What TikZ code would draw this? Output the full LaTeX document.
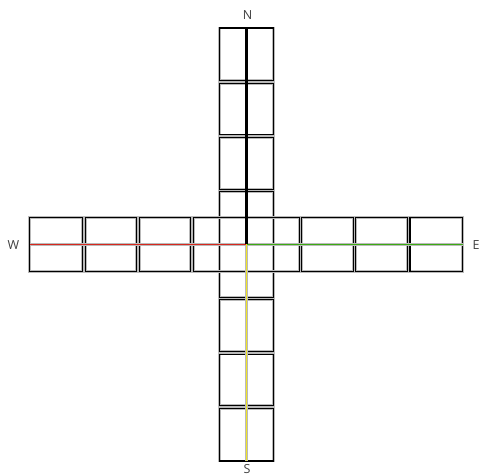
\documentclass[tikz,border=0pt]{standalone}
\usepackage{fontspec}
\setmainfont{Open Sans}
\definecolor{roadred}{RGB}{215,40,30}
\definecolor{roadgreen}{RGB}{60,170,20}
\definecolor{roadyellow}{RGB}{240,228,40}
\begin{document}
\begin{tikzpicture}[x=1pt,y=-1pt,
    lane/.style={draw=black,line width=1.1pt,
      preaction={draw=gray!55,line width=2.8pt}},
    heading/.style={text=black!75,font=\fontsize{12.5}{14}\selectfont,inner sep=0pt}]
  \useasboundingbox[fill=white] (0,0) rectangle (480,476);
  \coordinate (c) at (246.3,244.5);
  \coordinate (nEnd) at (246.3,28);
  \coordinate (sEnd) at (246.3,461);
  \coordinate (wEnd) at (29.8,244.5);
  \coordinate (eEnd) at (462.8,244.5);
  % road pieces, counted out from the crossing
  \foreach \k in {0,...,3} {
    \pgfmathsetmacro\a{\k*54.125+(\k>0)*1.3}
    \pgfmathsetmacro\b{(\k+1)*54.125-(\k<3)*1.3}
    \draw[lane] (219.3,244.5-\b) rectangle (273.3,244.5-\a);
    \draw[lane] (219.3,244.5+\a) rectangle (273.3,244.5+\b);
    \draw[lane] (246.3-\b,217.3) rectangle (246.3-\a,271.7);
    \draw[lane] (246.3+\a,217.3) rectangle (246.3+\b,271.7);
  }
  \draw[lane] (nEnd) -- (sEnd);
  \draw[lane] (wEnd) -- (eEnd);
  % centre lines
  \draw[line width=1.8pt,roadred] (wEnd) -- (c);
  \draw[line width=1.8pt,roadgreen] (c) -- (eEnd);
  \draw[line width=1.6pt,roadyellow] (c) -- (sEnd);
  \draw[line width=3.6pt,black] (nEnd) -- ([yshift=0.8]c);
  \node[heading] (n) at (247.5,15.5) {N};
  \node[heading] (s) at (247,469) {S};
  \node[heading] (w) at (13.5,245) {W};
  \node[heading] (e) at (476,245) {E};
\end{tikzpicture}
\end{document}
